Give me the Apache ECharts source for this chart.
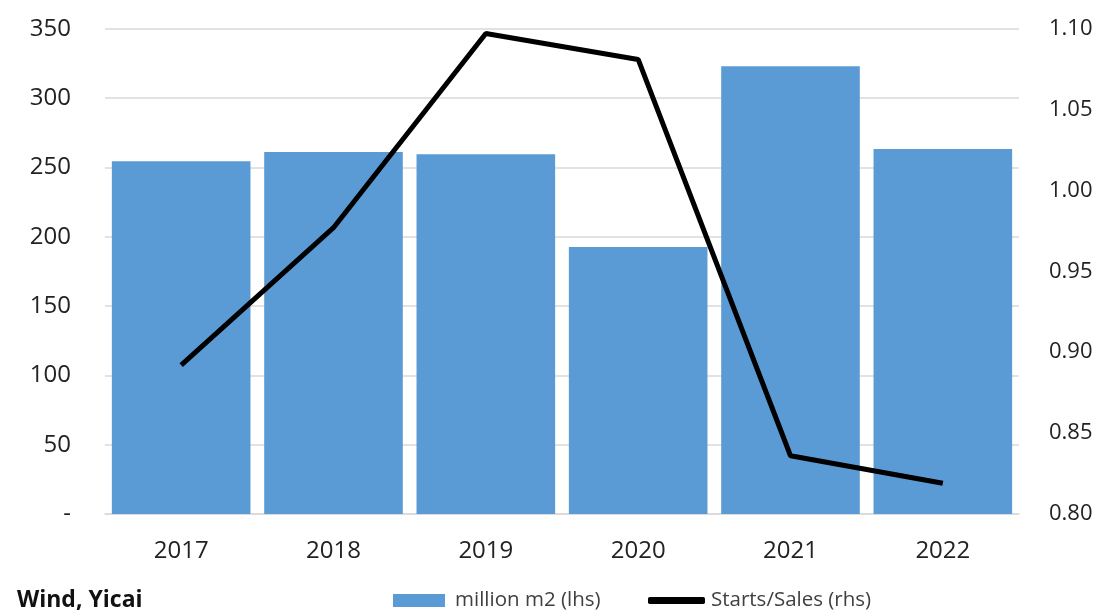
<!DOCTYPE html>
<html>
<head>
<meta charset="utf-8">
<script src="https://cdn.jsdelivr.net/npm/echarts@6/dist/echarts.min.js"></script>
<style>html,body{margin:0;padding:0;background:#fff;}#c{width:1096px;height:612px;}</style>
</head>
<body>
<div id="c"></div>
<script>
const categories = ['2017', '2018', '2019', '2020', '2021', '2022'];
const areaValues = [254.4, 261, 259.5, 192.6, 323, 263.3];
const ratioValues = [0.892, 0.977, 1.097, 1.081, 0.836, 0.819];
const barName = 'million m2 (lhs)';
const lineName = 'Starts/Sales (rhs)';
const sourceText = 'Wind, Yicai';

const font = '"Open Sans", "Noto Sans", sans-serif';
const chart = echarts.init(document.getElementById('c'));
chart.setOption({
  animation: false,
  backgroundColor: '#fff',
  title: {
    text: sourceText, left: 12, top: 584,
    textStyle: { fontFamily: font, fontSize: 23, fontWeight: 'bold', color: '#111' }
  },
  legend: [
    {
      data: [{ name: barName, icon: 'rect' }],
      left: 388, top: 585, itemWidth: 52, itemHeight: 13, selectedMode: false,
      textStyle: { fontFamily: font, fontSize: 20.5, color: '#404040', padding: [0, 0, 0, 5] }
    },
    {
      data: [{ name: lineName, icon: 'roundRect' }],
      left: 643, top: 585, itemWidth: 57, itemHeight: 7, selectedMode: false,
      textStyle: { fontFamily: font, fontSize: 20.5, color: '#404040', padding: [0, 0, 0, 1] }
    }
  ],
  grid: { left: 105, right: 77, top: 28.7, bottom: 98, containLabel: false },
  xAxis: {
    type: 'category', data: categories,
    axisLine: { lineStyle: { color: '#d9d9d9', width: 1.5 } },
    axisTick: { show: false },
    axisLabel: { fontFamily: font, fontSize: 24, color: '#222', margin: 25 }
  },
  yAxis: [
    {
      type: 'value', min: 0, max: 350, interval: 50,
      axisLine: { show: false }, axisTick: { show: false },
      splitLine: { lineStyle: { color: '#d9d9d9', width: 1.5 } },
      axisLabel: {
        fontFamily: font, fontSize: 24, color: '#222', margin: 34,
        formatter: v => v === 0 ? '-' : String(v)
      }
    },
    {
      type: 'value', min: 0.8, max: 1.1, interval: 0.05,
      axisLine: { show: false }, axisTick: { show: false },
      splitLine: { show: false },
      axisLabel: {
        fontFamily: font, fontSize: 22, color: '#222', margin: 30,
        formatter: v => v.toFixed(2)
      }
    }
  ],
  series: [
    {
      name: barName, type: 'bar', data: areaValues, yAxisIndex: 0,
      barCategoryGap: '9%',
      itemStyle: { color: '#5b9bd5' }
    },
    {
      name: lineName, type: 'line', data: ratioValues, yAxisIndex: 1,
      symbol: 'none', z: 5,
      lineStyle: { color: '#000', width: 5 },
      itemStyle: { color: '#000' }
    }
  ]
});
</script>
</body>
</html>
